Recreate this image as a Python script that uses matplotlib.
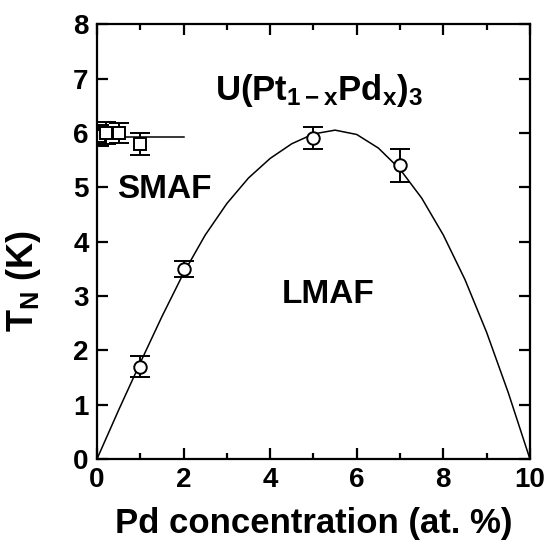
import numpy as np
import matplotlib
matplotlib.use('Agg')
import matplotlib.pyplot as plt

plt.rcParams['font.family'] = ['Liberation Sans', 'DejaVu Sans']
plt.rcParams['font.weight'] = 'bold'
plt.rcParams['mathtext.fontset'] = 'custom'
plt.rcParams['mathtext.rm'] = 'Liberation Sans:bold'
plt.rcParams['mathtext.bf'] = 'Liberation Sans:bold'
plt.rcParams['mathtext.it'] = 'Liberation Sans:bold'

# SMAF points (squares)
smaf_x = [0.05, 0.2, 0.5, 1.0]
smaf_y = [5.95, 6.0, 6.0, 5.8]
smaf_err = [0.2, 0.2, 0.18, 0.2]

# LMAF points (circles)
lmaf_x = [1.0, 2.0, 5.0, 7.0]
lmaf_y = [1.7, 3.5, 5.9, 5.4]
lmaf_err = [0.2, 0.15, 0.2, 0.3]

# boundary curve
curve_x = [0, 0.5, 1, 1.5, 2, 2.5, 3, 3.5, 4, 4.5, 5, 5.5, 6, 6.5, 7, 7.5, 8, 8.5, 9, 9.5, 10]
curve_y = [0, 0.9, 1.77, 2.62, 3.42, 4.12, 4.7, 5.17, 5.53, 5.8, 5.98, 6.05, 5.97, 5.72,
           5.33, 4.8, 4.12, 3.3, 2.33, 1.22, 0]

# SMAF horizontal line
hline_x = [0, 2.0]
hline_y = [5.93, 5.93]

fig = plt.figure(figsize=(5.48, 5.49), dpi=100)
ax = fig.add_axes([0.177, 0.164, 0.79, 0.792])

ax.plot(curve_x, curve_y, color='black', lw=1.1)
ax.plot(hline_x, hline_y, color='black', lw=1.1)
ax.errorbar(smaf_x, smaf_y, yerr=smaf_err, fmt='s', mfc='white', mec='black', ms=8,
            mew=1.4, ecolor='black', elinewidth=1.4, capsize=7, capthick=1.6)
ax.errorbar(lmaf_x, lmaf_y, yerr=lmaf_err, fmt='o', mfc='white', mec='black', ms=9,
            mew=1.4, ecolor='black', elinewidth=1.4, capsize=7, capthick=1.6)

ax.set_xlim(0, 10)
ax.set_ylim(0, 8)
ax.set_xticks([0, 2, 4, 6, 8, 10])
ax.set_xticks([1, 3, 5, 7, 9], minor=True)
ax.set_yticks(range(0, 9))
ax.tick_params(which='both', direction='in', top=True, right=True, width=1.6,
               labelsize=20, pad=6)
ax.tick_params(which='major', length=8)
ax.tick_params(which='minor', length=4)
for s in ax.spines.values():
    s.set_linewidth(1.6)

ax.set_xlabel('Pd concentration (at. %)', fontsize=25, fontweight='bold', labelpad=10)
ax.set_ylabel(r'$\mathregular{T_N}$ (K)', fontsize=26, fontweight='bold')
ax.yaxis.set_label_coords(-0.125, 0.41)

ax.text(2.72, 6.61, r'$\mathregular{U(Pt_{1-x}Pd_x)_3}$', fontsize=25, ha='left', va='baseline')
ax.text(0.46, 4.95, 'SMAF', fontsize=24, fontweight='bold', ha='left', va='center')
ax.text(4.27, 3.02, 'LMAF', fontsize=24, fontweight='bold', ha='left', va='center')

fig.savefig('out.png', dpi=100)
